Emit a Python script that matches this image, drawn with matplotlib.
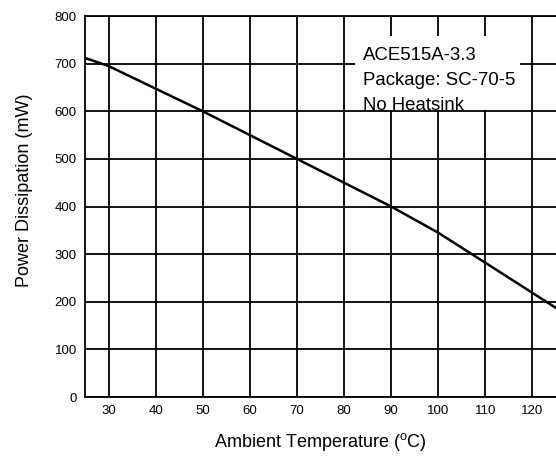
#Power dissipation vs ambient temperature
import numpy as np
import matplotlib.pyplot as plt
from matplotlib.patches import Rectangle

plt.rcParams['font.family'] = ['Liberation Sans', 'DejaVu Sans']
plt.rcParams['mathtext.fontset'] = 'custom'
plt.rcParams['mathtext.rm'] = 'Liberation Sans'

#Curve
temp = [25, 30, 50, 70, 90, 100, 110, 125]
power = [712, 695, 600, 500, 400, 345, 282, 187]

xticks = [30, 40, 50, 60, 70, 80, 90, 100, 110, 120]
yticks = [0, 100, 200, 300, 400, 500, 600, 700, 800]

fig = plt.figure(figsize=(5.56, 4.59), dpi=100)
ax = fig.add_axes([0.153, 0.135, 0.847, 0.83])

ax.plot(temp, power, color='black', lw=1.8, zorder=3)

ax.set_xlim(25, 125)
ax.set_ylim(0, 800)
ax.set_xticks(xticks)
ax.set_yticks(yticks)
ax.grid(True, color='black', lw=1.3)
ax.set_axisbelow(True)
for s in ax.spines.values():
    s.set_linewidth(1.3)
ax.spines['right'].set_visible(False)
ax.tick_params(length=0, labelsize=9.5, pad=6)

ax.set_xlabel('Ambient Temperature ($^{\\mathrm{o}}$C)', fontsize=13, labelpad=10)
ax.set_ylabel('Power Dissipation (mW)', fontsize=13)
ax.yaxis.set_label_coords(-0.11, 0.543)

#White patch hides the grid behind the label (stops above the 600 line)
ax.add_patch(Rectangle((82.3, 603), 35.1, 155, facecolor='white',
                       edgecolor='none', zorder=2))
ax.text(84.0, 736, 'ACE515A-3.3\nPackage: SC-70-5\nNo Heatsink',
        fontsize=13.4, va='top', ha='left', linespacing=1.62, zorder=4)

plt.savefig('out.png', dpi=100)
